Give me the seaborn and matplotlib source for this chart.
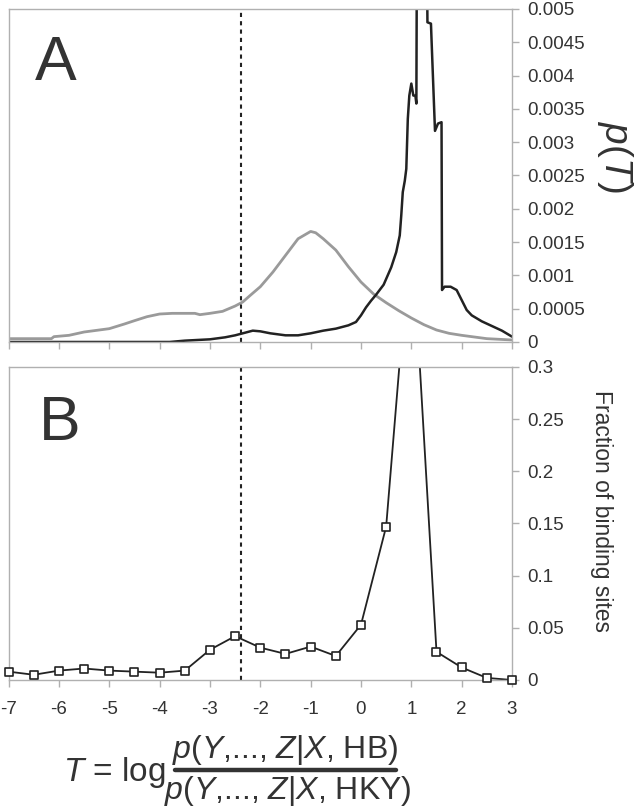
import matplotlib
matplotlib.use("Agg")
import matplotlib.pyplot as plt
from matplotlib.lines import Line2D
from matplotlib.ticker import FuncFormatter, MultipleLocator
import seaborn as sns

# Panel A: distribution of T, background (gray) and binding sites (black)
gray_t = [-7.0, -6.15, -6.1, -5.8, -5.5, -5.0, -4.7, -4.5, -4.25, -4.0, -3.75, -3.3,
          -3.2, -3.0, -2.75, -2.5, -2.35, -2.2, -2.0, -1.75, -1.5, -1.25, -1.0, -0.9,
          -0.75, -0.5, -0.25, 0.0, 0.25, 0.5, 0.75, 1.0, 1.25, 1.5, 1.75, 2.0, 2.5, 3.0]
gray_p = [0.00005, 0.00005, 0.00008, 0.0001, 0.00015, 0.0002, 0.00027, 0.00032, 0.00038,
          0.00042, 0.00043, 0.00043, 0.00041, 0.00043, 0.00046, 0.00054, 0.0006, 0.0007,
          0.00083, 0.00105, 0.0013, 0.00155, 0.00166, 0.00164, 0.00155, 0.00138, 0.00113,
          0.0009, 0.00072, 0.00059, 0.00047, 0.00036, 0.00026, 0.00018, 0.00013, 0.0001,
          0.00005, 0.00003]

black_t = [-7.0, -3.8, -3.5, -3.0, -2.7, -2.5, -2.3, -2.15, -2.0, -1.8, -1.5, -1.25,
           -1.0, -0.75, -0.5, -0.25, -0.1, 0.0, 0.1, 0.2, 0.3, 0.45, 0.6, 0.7, 0.77,
           0.8, 0.83, 0.87, 0.9, 0.93, 0.96, 1.0, 1.04, 1.08, 1.1, 1.11, 1.2, 1.31,
           1.32, 1.39, 1.4, 1.47, 1.53, 1.6, 1.61, 1.66, 1.78, 1.9, 2.0, 2.1, 2.2,
           2.4, 2.6, 2.8, 3.0]
black_p = [0.0, 0.0, 0.00002, 0.00004, 0.00007, 0.0001, 0.00014, 0.00017, 0.00016,
           0.00013, 0.0001, 0.0001, 0.00013, 0.00017, 0.0002, 0.00025, 0.0003, 0.0004,
           0.00052, 0.00062, 0.00071, 0.00086, 0.00112, 0.00135, 0.0016, 0.0019,
           0.00225, 0.00242, 0.0026, 0.00335, 0.0037, 0.00388, 0.0037, 0.0037, 0.00358,
           0.0058, 0.0062, 0.0058, 0.0048, 0.00478, 0.00457, 0.00317, 0.00328, 0.0033,
           0.00078, 0.00083, 0.00083, 0.00078, 0.00063, 0.00048, 0.0004, 0.00031,
           0.00024, 0.00017, 0.00008]

# Panel B: fraction of binding sites per T bin
site_t = [-7.0, -6.5, -6.0, -5.5, -5.0, -4.5, -4.0, -3.5, -3.0, -2.5, -2.0, -1.5,
          -1.0, -0.5, 0.0, 0.5, 1.0, 1.5, 2.0, 2.5, 3.0]
site_frac = [0.008, 0.005, 0.009, 0.011, 0.009, 0.008, 0.007, 0.009, 0.029, 0.042,
             0.031, 0.025, 0.032, 0.023, 0.053, 0.147, 0.44, 0.027, 0.012, 0.002, 0.0]

cutoff_t = -2.38

sns.set_theme(style="white")
plt.rcParams["font.family"] = ["Liberation Sans", "DejaVu Sans"]
plt.rcParams["mathtext.fontset"] = "custom"
plt.rcParams["mathtext.rm"] = "Liberation Sans"
plt.rcParams["mathtext.it"] = "Liberation Sans:italic"
plt.rcParams["mathtext.bf"] = "Liberation Sans:bold"
plt.rcParams["axes.unicode_minus"] = False

text_col = "#333333"
frame_col = "#b0b0b0"
line_col = "#222222"

fig = plt.figure(figsize=(6.4, 8.1), dpi=100)
ax_a = fig.add_axes([0.0135, 0.5778, 0.7865, 0.4111])
ax_b = fig.add_axes([0.0135, 0.1605, 0.7865, 0.3865])

fmt = FuncFormatter(lambda v, pos: "0" if abs(v) < 1e-12 else f"{v:.6g}")


def style_axis(ax):
    for sp in ax.spines.values():
        sp.set_color(frame_col)
        sp.set_linewidth(1.0)
    ax.yaxis.tick_right()
    ax.xaxis.tick_bottom()
    ax.tick_params(axis="both", which="major", direction="out", length=5,
                   width=1.0, color=frame_col, labelcolor=text_col, labelsize=13.5)
    ax.tick_params(axis="y", pad=6)
    ax.tick_params(axis="x", pad=10)
    ax.set_xlim(-7, 3)
    ax.xaxis.set_major_locator(MultipleLocator(1))
    ax.yaxis.set_major_formatter(fmt)
    ax.grid(False)


# Panel A
sns.lineplot(x=gray_t, y=gray_p, ax=ax_a, color="#9a9a9a", lw=2.0,
             estimator=None)
sns.lineplot(x=black_t, y=black_p, ax=ax_a, color=line_col, lw=1.8,
             estimator=None)
ax_a.axvline(cutoff_t, color=line_col, lw=1.5, ls=(0, (2, 2)))
style_axis(ax_a)
ax_a.set_ylim(0, 0.005)
ax_a.yaxis.set_major_locator(MultipleLocator(0.0005))
ax_a.tick_params(axis="x", labelbottom=False)
ax_a.set_xlabel("")
ax_a.set_ylabel("")
ax_a.text(0.052, 0.787, "A", transform=ax_a.transAxes, fontsize=45,
          color=text_col, ha="left", va="baseline")
ax_a.text(1.205, 0.556, r"$p(T)$", transform=ax_a.transAxes, fontsize=28,
          color=text_col, rotation=270, ha="center", va="center")

# Panel B
sns.lineplot(x=site_t, y=site_frac, ax=ax_b, color=line_col, lw=1.3,
             estimator=None)
in_view = [(t, f) for t, f in zip(site_t, site_frac) if f <= 0.3]
sns.scatterplot(x=[p[0] for p in in_view], y=[p[1] for p in in_view], ax=ax_b,
                marker="s", s=30, facecolor="white", edgecolor=line_col,
                linewidth=1.2, clip_on=False, zorder=5)
ax_b.axvline(cutoff_t, color=line_col, lw=1.5, ls=(0, (2, 2)))
style_axis(ax_b)
ax_b.set_ylim(0, 0.3)
ax_b.yaxis.set_major_locator(MultipleLocator(0.05))
ax_b.set_xlabel("")
ax_b.set_ylabel("")
ax_b.text(0.06, 0.767, "B", transform=ax_b.transAxes, fontsize=45,
          color=text_col, ha="left", va="baseline")
ax_b.text(1.178, 0.54, "Fraction of binding sites", transform=ax_b.transAxes,
          fontsize=16.5, color=text_col, rotation=270, ha="center", va="center")

# formula for T, built from pieces
fig.text(166 / 640, 1 - 772 / 810, "$T$ = log", fontsize=24, color=text_col,
         ha="right", va="center")
fig.text(285 / 640, 1 - 750 / 810, "$p$($Y$,..., $Z$|$X$, HB)", fontsize=23,
         color=text_col, ha="center", va="center")
fig.text(288 / 640, 1 - 791 / 810, "$p$($Y$,..., $Z$|$X$, HKY)", fontsize=23,
         color=text_col, ha="center", va="center")
fig.add_artist(Line2D([175 / 640, 396 / 640], [1 - 770 / 810, 1 - 770 / 810],
                      transform=fig.transFigure, color=text_col, lw=3.2))

fig.savefig("out.png", dpi=100)
